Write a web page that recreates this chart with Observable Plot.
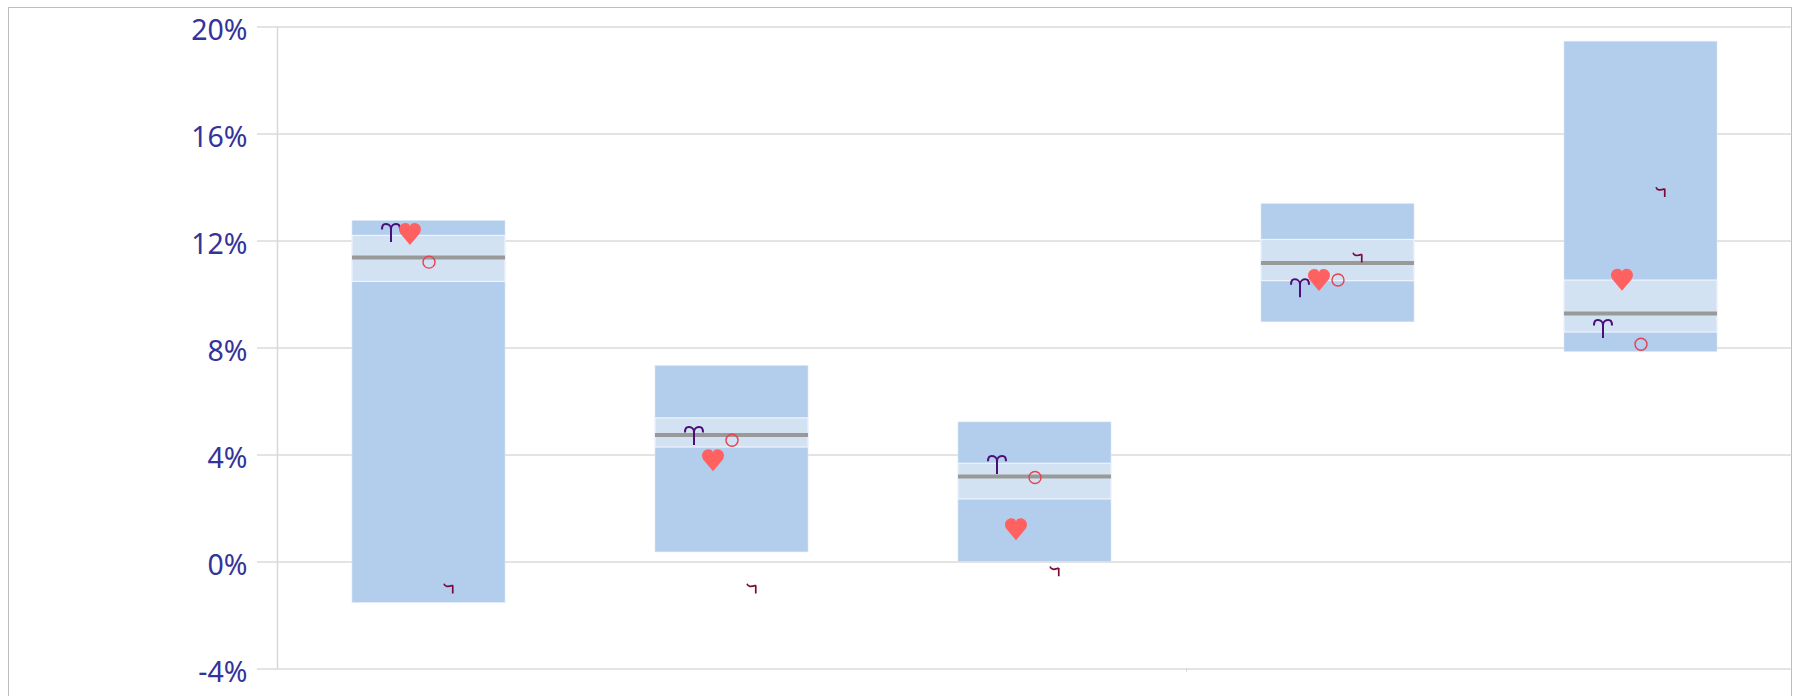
<!DOCTYPE html>
<html>
<head>
<meta charset="utf-8">
<script src="https://cdn.jsdelivr.net/npm/d3@7"></script>
<script src="https://cdn.jsdelivr.net/npm/@observablehq/plot@0.6"></script>
<style>
html,body{margin:0;padding:0;background:#fff;overflow:hidden;width:1797px;height:696px}
#frame{position:absolute;left:8px;top:7px;width:1784px;height:720px;border:1px solid #bdbdbd;box-sizing:border-box}
#chart{position:absolute;left:0;top:0}
</style>
</head>
<body>
<div id="frame"></div>
<div id="chart"></div>
<script>
const slots = [0, 1, 2, 3, 4];
const outerLow  = [-1.53, 0.36, 0.0, 8.96, 7.85];
const outerHigh = [12.75, 7.33, 5.22, 13.38, 19.45];
const innerLow  = [10.47, 4.28, 2.34, 10.5, 8.58];
const innerHigh = [12.19, 5.37, 3.67, 12.04, 10.52];
const median    = [11.38, 4.75, 3.2, 11.18, 9.29];
const ariesValues = [12.3, 4.71, 3.63, 10.23, 8.71];
const heartValues = [12.26, 3.8, 1.22, 10.54, 10.55];
const ringValues  = [11.21, 4.55, 3.16, 10.54, 8.14];
const hookValues  = [-0.97, -0.97, -0.33, 11.4, 13.85];
const yTicks = [-4, 0, 4, 8, 12, 16, 20];
const slotBoundaries = [3];

const barHalf = 0.2525;
const rows = slots.map(i => ({i, lo: outerLow[i], hi: outerHigh[i], il: innerLow[i], ih: innerHigh[i], m: median[i]}));

const unit = s => Math.sqrt(s / Math.PI);
const aries = {draw(c, s) {
  const k = unit(s);
  c.moveTo(0, k);
  c.lineTo(0, -0.45 * k);
  c.bezierCurveTo(0, -0.85 * k, -0.35 * k, -k, -0.6 * k, -k);
  c.bezierCurveTo(-0.9 * k, -k, -k, -0.7 * k, -k, -0.4 * k);
  c.moveTo(0, -0.45 * k);
  c.bezierCurveTo(0, -0.85 * k, 0.35 * k, -k, 0.6 * k, -k);
  c.bezierCurveTo(0.9 * k, -k, k, -0.7 * k, k, -0.4 * k);
}};
const hook = {draw(c, s) {
  const k = unit(s);
  c.moveTo(-k, -0.85 * k);
  c.bezierCurveTo(-0.8 * k, -0.25 * k, -0.2 * k, -0.15 * k, 0.75 * k, -0.55 * k);
  c.moveTo(0.75 * k, -0.55 * k);
  c.lineTo(0.75 * k, 1.1 * k);
}};
const heart = {draw(c, s) {
  const k = unit(s);
  c.moveTo(0, k);
  c.lineTo(-0.88 * k, -0.05 * k);
  c.bezierCurveTo(-1.2 * k, -0.6 * k, -0.8 * k, -k, -0.42 * k, -k);
  c.bezierCurveTo(-0.2 * k, -k, -0.05 * k, -0.9 * k, 0, -0.72 * k);
  c.bezierCurveTo(0.05 * k, -0.9 * k, 0.2 * k, -k, 0.42 * k, -k);
  c.bezierCurveTo(0.8 * k, -k, 1.2 * k, -0.6 * k, 0.88 * k, -0.05 * k);
  c.closePath();
}};
const glyphs = (values, opts) => Plot.dot(slots, {x: i => i + 0.5, y: i => values[i], ...opts});

const chart = Plot.plot({
  width: 1797,
  height: 696,
  marginLeft: 277,
  marginRight: 5,
  marginTop: 26.5,
  marginBottom: 27.5,
  style: {background: "transparent", overflow: "visible"},
  x: {domain: [0, 5], axis: null},
  y: {domain: [-4, 20]},
  marks: [
    Plot.gridY(yTicks, {stroke: "#c8c8c8", strokeOpacity: 1, strokeWidth: 1}),
    Plot.axisY({ticks: yTicks, anchor: "left", tickSize: 20, stroke: "#c8c8c8", fill: "none", label: null}),
    Plot.axisY({ticks: yTicks, anchor: "left", tickSize: 0, tickPadding: 30, dy: 3.5,
      tickFormat: d => d + "%", fill: "#333399", fontSize: 28.5, fontFamily: "'Noto Sans'", label: null}),
    Plot.ruleX([0], {stroke: "#d8d8d8", strokeWidth: 1.5}),
    Plot.axisX({ticks: slotBoundaries, anchor: "bottom", tickSize: 3, stroke: "#d2d2d2", tickFormat: () => "", label: null}),
    Plot.rectY(rows, {x1: d => d.i + 0.5 - barHalf, x2: d => d.i + 0.5 + barHalf, y1: "lo", y2: "hi", fill: "#b3ceec", stroke: "#dce8f6", strokeWidth: 0.6}),
    Plot.rectY(rows, {x1: d => d.i + 0.5 - barHalf, x2: d => d.i + 0.5 + barHalf, y1: "il", y2: "ih", fill: "#d3e2f3", stroke: "#eef4fb", strokeWidth: 1.2}),
    Plot.ruleY(rows, {y: "m", x1: d => d.i + 0.5 - barHalf, x2: d => d.i + 0.5 + barHalf, stroke: "#999999", strokeWidth: 4}),
    glyphs(ariesValues, {dx: -38, symbol: aries, r: 9, fill: "none", stroke: "#4b0f7a", strokeWidth: 2}),
    glyphs(hookValues, {dx: 20, symbol: hook, r: 5, fill: "none", stroke: "#7a0a3c", strokeWidth: 1.7}),
    glyphs(ringValues, {symbol: "circle", r: 6, fill: "none", stroke: "#e8404f", strokeWidth: 1.4}),
    glyphs(heartValues, {dx: -19, symbol: heart, r: 11, fill: "#ff6060", stroke: "none"})
  ]
});
document.getElementById("chart").append(chart);
</script>
</body>
</html>
